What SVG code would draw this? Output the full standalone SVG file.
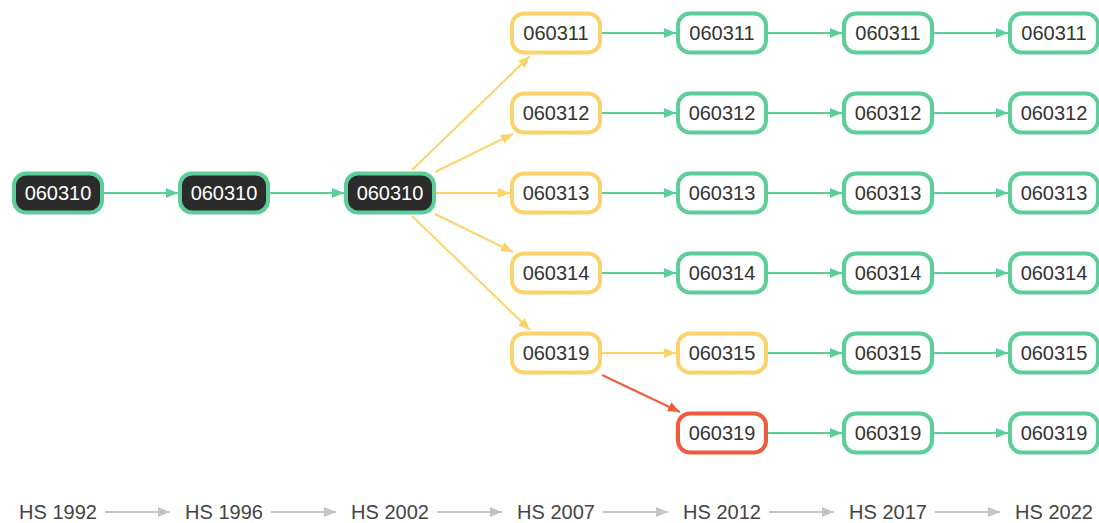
<svg xmlns="http://www.w3.org/2000/svg" width="1099" height="523" viewBox="0 0 1099 523">
<style>
.n rect{stroke-width:4;fill:#fff}
.g rect{stroke:#5ccf98}
.y rect{stroke:#fcd36b}
.r rect{stroke:#ef5b3d}
.b rect{stroke:#5ccf98;fill:#2b2b2b}
.n text{font-family:"Liberation Sans",Arial,sans-serif;font-size:20px;fill:#333;text-anchor:middle}
.b text{fill:#fff}
.eg{stroke:#5ccf98;stroke-width:2;fill:none;marker-end:url(#ag)}
.ey{stroke:#fcd36b;stroke-width:2;fill:none;marker-end:url(#ay)}
.er{stroke:#ef5b3d;stroke-width:2;fill:none;marker-end:url(#ar)}
.el{stroke:#c4c4c4;stroke-width:2;fill:none;marker-end:url(#al)}
.lt{font-family:"Liberation Sans",Arial,sans-serif;font-size:20px;fill:#444;text-anchor:middle}
</style>
<defs>
<marker id="ag" markerUnits="userSpaceOnUse" markerWidth="12" markerHeight="10" refX="12" refY="5" orient="auto"><path d="M0,0 L12,5 L0,10 z" fill="#5ccf98"/></marker>
<marker id="ay" markerUnits="userSpaceOnUse" markerWidth="12" markerHeight="10" refX="12" refY="5" orient="auto"><path d="M0,0 L12,5 L0,10 z" fill="#fcd36b"/></marker>
<marker id="ar" markerUnits="userSpaceOnUse" markerWidth="12" markerHeight="10" refX="12" refY="5" orient="auto"><path d="M0,0 L12,5 L0,10 z" fill="#ef5b3d"/></marker>
<marker id="al" markerUnits="userSpaceOnUse" markerWidth="12" markerHeight="10" refX="12" refY="5" orient="auto"><path d="M0,0 L12,5 L0,10 z" fill="#c4c4c4"/></marker>
</defs>
<rect width="1099" height="523" fill="#fff"/>
<g id="connectors">
<line class="eg" x1="104" y1="193" x2="178" y2="193"/>
<line class="eg" x1="270" y1="193" x2="344" y2="193"/>
<line class="ey" x1="412" y1="170" x2="530" y2="56"/>
<line class="ey" x1="435" y1="172" x2="513" y2="134"/>
<line class="ey" x1="436" y1="193" x2="510" y2="193"/>
<line class="ey" x1="435" y1="214" x2="513" y2="252"/>
<line class="ey" x1="412" y1="216" x2="530" y2="330"/>
<line class="eg" x1="602" y1="33" x2="676" y2="33"/>
<line class="eg" x1="602" y1="113" x2="676" y2="113"/>
<line class="eg" x1="602" y1="193" x2="676" y2="193"/>
<line class="eg" x1="602" y1="273" x2="676" y2="273"/>
<line class="ey" x1="602" y1="353" x2="676" y2="353"/>
<line class="er" x1="602" y1="375" x2="680" y2="412"/>
<line class="eg" x1="768" y1="33" x2="842" y2="33"/>
<line class="eg" x1="768" y1="113" x2="842" y2="113"/>
<line class="eg" x1="768" y1="193" x2="842" y2="193"/>
<line class="eg" x1="768" y1="273" x2="842" y2="273"/>
<line class="eg" x1="768" y1="353" x2="842" y2="353"/>
<line class="eg" x1="768" y1="433" x2="842" y2="433"/>
<line class="eg" x1="934" y1="33" x2="1008" y2="33"/>
<line class="eg" x1="934" y1="113" x2="1008" y2="113"/>
<line class="eg" x1="934" y1="193" x2="1008" y2="193"/>
<line class="eg" x1="934" y1="273" x2="1008" y2="273"/>
<line class="eg" x1="934" y1="353" x2="1008" y2="353"/>
<line class="eg" x1="934" y1="433" x2="1008" y2="433"/>
</g>
<g id="n0" class="n b"><rect x="14" y="173.5" width="88" height="39" rx="12"/><text x="58" y="200">060310</text></g>
<g id="n1" class="n b"><rect x="180" y="173.5" width="88" height="39" rx="12"/><text x="224" y="200">060310</text></g>
<g id="n2" class="n b"><rect x="346" y="173.5" width="88" height="39" rx="12"/><text x="390" y="200">060310</text></g>
<g id="n3a" class="n y"><rect x="512" y="13.5" width="88" height="39" rx="12"/><text x="556" y="40">060311</text></g>
<g id="n3b" class="n y"><rect x="512" y="93.5" width="88" height="39" rx="12"/><text x="556" y="120">060312</text></g>
<g id="n3c" class="n y"><rect x="512" y="173.5" width="88" height="39" rx="12"/><text x="556" y="200">060313</text></g>
<g id="n3d" class="n y"><rect x="512" y="253.5" width="88" height="39" rx="12"/><text x="556" y="280">060314</text></g>
<g id="n3e" class="n y"><rect x="512" y="333.5" width="88" height="39" rx="12"/><text x="556" y="360">060319</text></g>
<g id="n4a" class="n g"><rect x="678" y="13.5" width="88" height="39" rx="12"/><text x="722" y="40">060311</text></g>
<g id="n4b" class="n g"><rect x="678" y="93.5" width="88" height="39" rx="12"/><text x="722" y="120">060312</text></g>
<g id="n4c" class="n g"><rect x="678" y="173.5" width="88" height="39" rx="12"/><text x="722" y="200">060313</text></g>
<g id="n4d" class="n g"><rect x="678" y="253.5" width="88" height="39" rx="12"/><text x="722" y="280">060314</text></g>
<g id="n4e" class="n y"><rect x="678" y="333.5" width="88" height="39" rx="12"/><text x="722" y="360">060315</text></g>
<g id="n4f" class="n r"><rect x="678" y="413.5" width="88" height="39" rx="12"/><text x="722" y="440">060319</text></g>
<g id="n5a" class="n g"><rect x="844" y="13.5" width="88" height="39" rx="12"/><text x="888" y="40">060311</text></g>
<g id="n5b" class="n g"><rect x="844" y="93.5" width="88" height="39" rx="12"/><text x="888" y="120">060312</text></g>
<g id="n5c" class="n g"><rect x="844" y="173.5" width="88" height="39" rx="12"/><text x="888" y="200">060313</text></g>
<g id="n5d" class="n g"><rect x="844" y="253.5" width="88" height="39" rx="12"/><text x="888" y="280">060314</text></g>
<g id="n5e" class="n g"><rect x="844" y="333.5" width="88" height="39" rx="12"/><text x="888" y="360">060315</text></g>
<g id="n5f" class="n g"><rect x="844" y="413.5" width="88" height="39" rx="12"/><text x="888" y="440">060319</text></g>
<g id="n6a" class="n g"><rect x="1010" y="13.5" width="88" height="39" rx="12"/><text x="1054" y="40">060311</text></g>
<g id="n6b" class="n g"><rect x="1010" y="93.5" width="88" height="39" rx="12"/><text x="1054" y="120">060312</text></g>
<g id="n6c" class="n g"><rect x="1010" y="173.5" width="88" height="39" rx="12"/><text x="1054" y="200">060313</text></g>
<g id="n6d" class="n g"><rect x="1010" y="253.5" width="88" height="39" rx="12"/><text x="1054" y="280">060314</text></g>
<g id="n6e" class="n g"><rect x="1010" y="333.5" width="88" height="39" rx="12"/><text x="1054" y="360">060315</text></g>
<g id="n6f" class="n g"><rect x="1010" y="413.5" width="88" height="39" rx="12"/><text x="1054" y="440">060319</text></g>
<g id="legend">
<text class="lt" x="58" y="519">HS 1992</text>
<text class="lt" x="224" y="519">HS 1996</text>
<text class="lt" x="390" y="519">HS 2002</text>
<text class="lt" x="556" y="519">HS 2007</text>
<text class="lt" x="722" y="519">HS 2012</text>
<text class="lt" x="888" y="519">HS 2017</text>
<text class="lt" x="1054" y="519">HS 2022</text>
<line class="el" x1="105" y1="512" x2="170" y2="512"/>
<line class="el" x1="271" y1="512" x2="336" y2="512"/>
<line class="el" x1="437" y1="512" x2="502" y2="512"/>
<line class="el" x1="603" y1="512" x2="668" y2="512"/>
<line class="el" x1="769" y1="512" x2="834" y2="512"/>
<line class="el" x1="935" y1="512" x2="1000" y2="512"/>
</g>
</svg>
